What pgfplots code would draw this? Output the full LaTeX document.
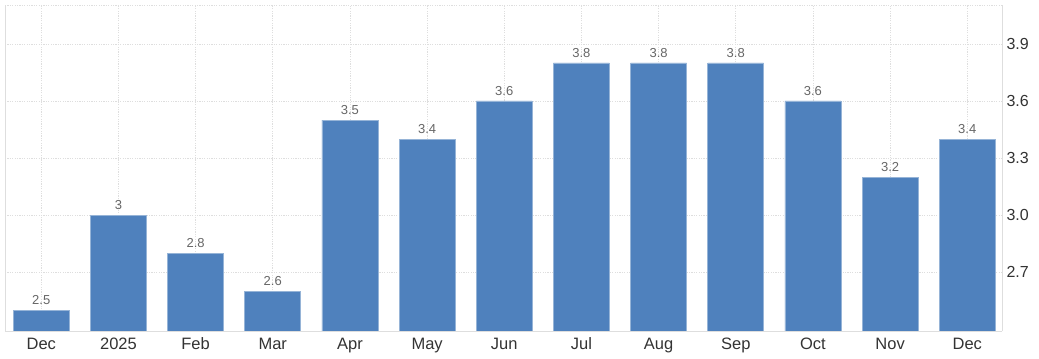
\documentclass[border=0pt]{standalone}
\usepackage{pgfplots}
\pgfplotsset{compat=1.18}
\usepackage{pgfplotstable}
\usepackage{fontspec}
\setmainfont{Liberation Sans}
\definecolor{barblue}{RGB}{79,129,189}
\definecolor{baredge}{RGB}{150,180,215}
\definecolor{gridgray}{RGB}{222,222,222}
\definecolor{ticktext}{RGB}{51,51,51}
\definecolor{valtext}{RGB}{102,102,102}
\pgfplotstableread{
x y lab
0 2.5 2.5
1 3.0 3
2 2.8 2.8
3 2.6 2.6
4 3.5 3.5
5 3.4 3.4
6 3.6 3.6
7 3.8 3.8
8 3.8 3.8
9 3.8 3.8
10 3.6 3.6
11 3.2 3.2
12 3.4 3.4
}\datatable
\begin{document}
\begin{tikzpicture}
\path[use as bounding box] (-5bp,-28bp) rectangle (1034bp,331bp);
\begin{axis}[
  at={(0,0)}, anchor=south west,
  scale only axis, width=997bp, height=326bp,
  xmin=-0.47, xmax=12.45, ymin=2.39, ymax=4.105,
  axis x line*=bottom, axis y line*=right,
  axis line style={gridgray, line width=0.8bp, -},
  tick style={draw=none},
  ytick={2.7,3.0,3.3,3.6,3.9},
  yticklabel pos=right,
  xtick={0,...,12},
  xticklabels={Dec,2025,Feb,Mar,Apr,May,Jun,Jul,Aug,Sep,Oct,Nov,Dec},
  grid=major,
  major grid style={gridgray, line width=0.6bp, dash pattern=on 1.2bp off 1.2bp},
  /pgf/number format/assume math mode=true,
  /pgf/number format/.cd, fixed, fixed zerofill, precision=1, /pgfplots/.cd,
  yticklabel style={font=\fontsize{16bp}{18bp}\selectfont, color=ticktext, xshift=1bp},
  xticklabel style={font=\fontsize{16.5bp}{18bp}\selectfont, color=ticktext, yshift=1bp},
  ybar, bar width=0.725,
  nodes near coords,
  point meta=explicit symbolic,
  every node near coord/.append style={font=\fontsize{13bp}{15bp}\selectfont, color=valtext, yshift=1.5bp},
]
\draw[gridgray, line width=0.6bp, dash pattern=on 1.2bp off 1.2bp] (rel axis cs:0,1) -- (rel axis cs:1,1);
\draw[gridgray, line width=0.8bp] (rel axis cs:0,0) -- (rel axis cs:0,1);
\addplot[fill=barblue, draw=baredge, line width=0.8bp] table[x=x, y=y, meta=lab]{\datatable};
\end{axis}
\end{tikzpicture}
\end{document}
